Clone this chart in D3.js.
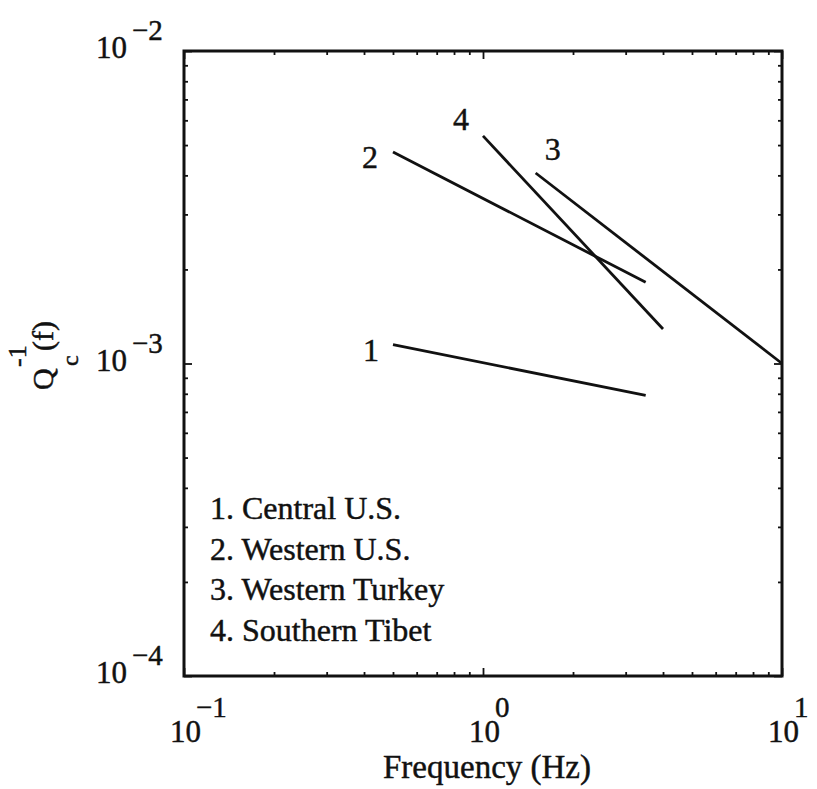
<!DOCTYPE html>
<html>
<head>
<meta charset="utf-8">
<script src="https://cdn.jsdelivr.net/npm/d3@7"></script>
<style>
  body { margin: 0; background: #fff; }
  text { font-family: "Liberation Serif", "Times New Roman", serif; fill: #111; stroke: #111; stroke-width: 0.45px; }
</style>
</head>
<body>
<div id="chart"></div>
<script>
// values
var seriesIds = ["1", "2", "3", "4"];
var freqStart = [0.5, 0.5, 1.5, 1.0];
var freqEnd = [3.5, 3.5, 10, 4.0];
var qStart = [1.15e-3, 4.75e-3, 4.07e-3, 5.35e-3];
var qEnd = [7.9e-4, 1.82e-3, 1.0e-3, 1.29e-3];
var legendLabels = ["1. Central U.S.", "2. Western U.S.", "3. Western Turkey", "4. Southern Tibet"];
var xTickValues = [0.1, 1, 10];
var xTickExp = ["\u22121", "0", "1"];
var yTickValues = [1e-4, 1e-3, 1e-2];
var yTickExp = ["\u22124", "\u22123", "\u22122"];

var svgWidth = 817;
var svgHeight = 789;

var margin = { top: 51, right: 35, bottom: 113, left: 184 };
var width = svgWidth - margin.left - margin.right;
var height = svgHeight - margin.top - margin.bottom;

var svg = d3.select("#chart")
  .append("svg")
  .attr("width", svgWidth)
  .attr("height", svgHeight);

var g = svg.append("g")
  .attr("transform", "translate(" + margin.left + "," + margin.top + ")");

var x = d3.scaleLog().domain([0.1, 10]).range([0, width]);
var y = d3.scaleLog().domain([1e-4, 1e-2]).range([height, 0]);

// inward ticks on all four sides, decades a bit longer
function tickLen(v) {
  var l = Math.log10(v);
  return Math.abs(l - Math.round(l)) < 1e-9 ? -8 : -4;
}
function addTicks(axis, transform) {
  var a = g.append("g").attr("transform", transform).call(axis.tickFormat("").tickSizeOuter(0));
  a.select(".domain").remove();
  a.selectAll(".tick line")
    .attr("stroke", "#111")
    .attr("stroke-width", 1.8);
  return a;
}
var bx = addTicks(d3.axisBottom(x).tickSizeInner(-4), "translate(0," + height + ")");
var tx = addTicks(d3.axisTop(x).tickSizeInner(-4), "translate(0,0)");
var ly = addTicks(d3.axisLeft(y).tickSizeInner(-4), "translate(0,0)");
var ry = addTicks(d3.axisRight(y).tickSizeInner(-4), "translate(" + width + ",0)");
bx.selectAll(".tick line").attr("y2", function(d) { return tickLen(d); });
tx.selectAll(".tick line").attr("y2", function(d) { return -tickLen(d); });
ly.selectAll(".tick line").attr("x2", function(d) { return -tickLen(d); });
ry.selectAll(".tick line").attr("x2", function(d) { return tickLen(d); });

g.append("rect")
  .attr("width", width)
  .attr("height", height)
  .attr("fill", "none")
  .attr("stroke", "#111")
  .attr("stroke-width", 3);

// tick labels
xTickValues.forEach(function(v, i) {
  var t = g.append("text")
    .attr("x", x(v) - 14)
    .attr("y", height + 66)
    .style("font-size", "31px");
  t.append("tspan").text("10");
  t.append("tspan").attr("dy", -25).attr("dx", -5).style("font-size", "29px").text(xTickExp[i]);
});

yTickValues.forEach(function(v, i) {
  var t = g.append("text")
    .attr("x", -88)
    .attr("y", y(v) + 7)
    .style("font-size", "31px");
  t.append("tspan").text("10");
  t.append("tspan").attr("dy", -18).attr("dx", 5).style("font-size", "29px").text(yTickExp[i]);
});

// lines
var lines = seriesIds.map(function(id, i) {
  return [[freqStart[i], qStart[i]], [freqEnd[i], qEnd[i]]];
});
var line = d3.line()
  .x(function(d) { return x(d[0]); })
  .y(function(d) { return y(d[1]); });

g.selectAll(".qline")
  .data(lines)
  .enter()
  .append("path")
  .attr("class", "qline")
  .attr("d", line)
  .attr("fill", "none")
  .attr("stroke", "#111")
  .attr("stroke-width", 2.8);

// number labels near the start of each line
var labelOffset = [[-22, 16], [-23, 16], [17, -13], [-22, -6]];
g.selectAll(".num")
  .data(seriesIds)
  .enter()
  .append("text")
  .attr("class", "num")
  .attr("x", function(d, i) { return x(freqStart[i]) + labelOffset[i][0]; })
  .attr("y", function(d, i) { return y(qStart[i]) + labelOffset[i][1]; })
  .attr("text-anchor", "middle")
  .style("font-size", "32px")
  .text(function(d) { return d; });

// legend
g.selectAll(".leg")
  .data(legendLabels)
  .enter()
  .append("text")
  .attr("class", "leg")
  .attr("x", 26)
  .attr("y", function(d, i) { return 468 + i * 40.5; })
  .style("font-size", "32px")
  .text(function(d) { return d; });

// axis titles
svg.append("text")
  .attr("x", margin.left + width / 2 + 4)
  .attr("y", 778)
  .attr("text-anchor", "middle")
  .style("font-size", "33px")
  .text("Frequency (Hz)");

var yt = svg.append("g").attr("transform", "translate(53,390) rotate(-90)");
yt.append("text").attr("x", 0).attr("y", 0).style("font-size", "30px").text("Q");
yt.append("text").attr("x", 24).attr("y", 25).style("font-size", "24px").text("c");
yt.append("text").attr("x", 23).attr("y", -27).style("font-size", "26px").text("-1");
yt.append("text").attr("x", 39).attr("y", 0).style("font-size", "30px").text("(f)");
</script>
</body>
</html>
